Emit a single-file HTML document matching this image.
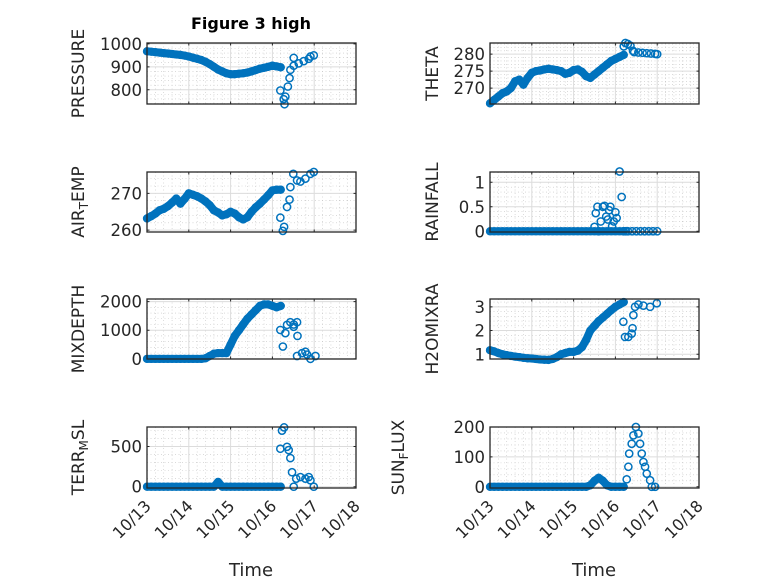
<!DOCTYPE html>
<html><head><meta charset="utf-8"><style>
html,body{margin:0;padding:0;background:#fff;}
svg{display:block;font-family:"DejaVu Sans","Liberation Sans",sans-serif;}
</style></head>
<body>
<svg id="fig" width="778" height="583" viewBox="0 0 778 583" xmlns="http://www.w3.org/2000/svg">
<rect width="778" height="583" fill="#fff"/>
<text x="251" y="29" text-anchor="middle" font-size="16" font-weight="bold" fill="#000">Figure 3 high</text>
<text x="251" y="576" text-anchor="middle" font-size="18" fill="#262626">Time</text>
<text x="594" y="576" text-anchor="middle" font-size="18" fill="#262626">Time</text>
</svg>
<script>
const xTickLabels = ['10/13','10/14','10/15','10/16','10/17','10/18'];
const tDense = [0,0.1,0.2,0.3,0.4,0.5,0.6,0.7,0.8,0.9,1.0,1.1,1.2,1.3,1.4,1.5,1.6,1.7,1.8,1.9,2.0,2.1,2.2,2.3,2.4,2.5,2.6,2.7,2.8,2.9,3.0,3.1,3.2];

const pressureDense = [968,966,964,962,960,958,956,954,952,949,945,940,935,930,922,912,900,888,880,872,868,868,870,872,875,880,886,892,896,900,905,902,898];
const pressureSparseT = [3.19,3.27,3.29,3.31,3.37,3.41,3.43,3.51,3.51,3.63,3.75,3.87,3.91,3.99];
const pressureSparseV = [797,759,737,770,814,851,887,939,905,915,925,935,945,950];

const thetaDense = [265.5,266.5,267.5,268.5,269,270,272,272.5,271,273,274.5,275,275.2,275.5,275.7,275.5,275.3,275,274.2,274.5,275.3,275.5,274.8,273.5,273,274,275,276,277,278,278.6,279.2,279.8];
const thetaSparseT = [3.2,3.24,3.3,3.36,3.42,3.45,3.55,3.65,3.75,3.85,3.95,4.0];
const thetaSparseV = [282.3,283.3,283,282.5,281,280.6,280.5,280.4,280.3,280.2,280.1,280];

const airTempDense = [263.2,263.8,264.5,265.4,265.8,266.5,267.5,268.6,267.2,268.5,270,269.6,269.2,268.6,267.8,266.8,265.4,264.8,264,264.3,265,264.5,263.5,262.9,263.5,265,266.2,267.2,268.3,269.5,270.8,271,271];
const airTempSparseT = [3.19,3.25,3.28,3.35,3.41,3.43,3.5,3.59,3.67,3.79,3.91,3.99];
const airTempSparseV = [263.4,259.8,260.9,266.3,268.3,271.7,275.3,273.5,273.2,274,275.3,275.8];

const rainDense = [0,0,0,0,0,0,0,0,0,0,0,0,0,0,0,0,0,0,0,0,0,0,0,0,0,0,0,0,0,0,0,0,0];
const rainSparseT = [2.5,2.53,2.57,2.6,2.65,2.7,2.74,2.78,2.82,2.85,2.88,2.92,2.96,3.0,3.03,3.1,3.15,3.2,3.25,3.3,3.4,3.5,3.6,3.7,3.8,3.9,4.0];
const rainSparseV = [0.09,0.37,0.5,0,0.2,0.5,0.52,0.3,0.24,0.43,0.5,0.1,0.2,0.39,0.27,1.22,0.7,0,0,0,0,0,0,0,0,0,0];

const mixDense = [0,0,0,0,0,0,0,0,0,0,0,0,0,0,20,100,180,200,200,200,500,800,1000,1200,1400,1550,1700,1850,1900,1900,1850,1800,1850];
const mixSparseT = [3.19,3.25,3.31,3.35,3.43,3.51,3.59,3.51,3.6,3.59,3.71,3.83,3.91,4.03,3.79];
const mixSparseV = [1010,430,897,1187,1280,1200,1280,1120,800,100,200,150,0,100,250];

const h2oDense = [1.17,1.12,1.05,1.0,0.96,0.93,0.9,0.88,0.85,0.83,0.82,0.8,0.78,0.77,0.76,0.8,0.88,1.0,1.05,1.1,1.1,1.15,1.3,1.6,2.0,2.2,2.4,2.55,2.7,2.86,3.0,3.1,3.2];
const h2oSparseT = [3.19,3.23,3.31,3.39,3.41,3.43,3.47,3.55,3.67,3.83,3.99];
const h2oSparseV = [2.37,1.73,1.73,1.87,2.1,2.65,3.0,3.1,3.05,3.0,3.15];

const terrDense = [0,0,0,0,0,0,0,0,0,0,0,0,0,0,0,0,0,60,0,0,0,0,0,0,0,0,0,0,0,0,0,0,0];
const terrSparseT = [3.19,3.23,3.28,3.35,3.39,3.43,3.47,3.51,3.57,3.67,3.79,3.91,3.99,3.87];
const terrSparseV = [472,697,737,496,455,356,180,0,100,120,100,80,0,120];

const sunDense = [0,0,0,0,0,0,0,0,0,0,0,0,0,0,0,0,0,0,0,0,0,0,0,0,5,20,30,20,5,0,0,0,0];
const sunSparseT = [3.27,3.31,3.33,3.39,3.43,3.49,3.55,3.59,3.63,3.67,3.71,3.75,3.83,3.87,3.95];
const sunSparseV = [25,67,111,144,172,200,178,144,111,83,67,44,22,0,0];

const NS = 'http://www.w3.org/2000/svg';
const svg = document.getElementById('fig');
function mk(tag, attrs, parent){ const e=document.createElementNS(NS,tag); for(const k in attrs) e.setAttribute(k,attrs[k]); (parent||svg).appendChild(e); return e; }

const colX = [147, 490];
const rowY = [[43,104],[172,232],[299,359],[427,488]];
const AXW = 209;

const panels = [
 {id:'pressure', col:0,row:0, ylim:[738,1004], yticks:[800,900,1000], major:100, label:['PRESSURE'], dense:pressureDense, st:pressureSparseT, sv:pressureSparseV},
 {id:'theta', col:1,row:0, ylim:[265.3,283.3], yticks:[270,275,280], major:5, label:['THETA'], dense:thetaDense, st:thetaSparseT, sv:thetaSparseV},
 {id:'air-temp', col:0,row:1, ylim:[259.5,275.8], yticks:[260,270], major:10, label:['AIR','T','EMP'], dense:airTempDense, st:airTempSparseT, sv:airTempSparseV},
 {id:'rainfall', col:1,row:1, ylim:[-0.015,1.21], yticks:[0,0.5,1], major:0.5, label:['RAINFALL'], dense:rainDense, st:rainSparseT, sv:rainSparseV},
 {id:'mixdepth', col:0,row:2, ylim:[-5,2090], yticks:[0,1000,2000], major:1000, label:['MIXDEPTH'], dense:mixDense, st:mixSparseT, sv:mixSparseV},
 {id:'h2omixra', col:1,row:2, ylim:[0.8,3.33], yticks:[1,2,3], major:1, label:['H2OMIXRA'], dense:h2oDense, st:h2oSparseT, sv:h2oSparseV},
 {id:'terr-msl', col:0,row:3, ylim:[-16,742], yticks:[0,500], major:500, label:['TERR','M','SL'], dense:terrDense, st:terrSparseT, sv:terrSparseV},
 {id:'sun-flux', col:1,row:3, ylim:[-4,200], yticks:[0,100,200], major:100, label:['SUN','F','LUX'], dense:sunDense, st:sunSparseT, sv:sunSparseV}
];

panels.forEach(p=>{
  const x0=colX[p.col], y0=rowY[p.row][0], y1=rowY[p.row][1];
  const xs = t => x0 + t/5*AXW;
  const ys = v => y1 - (v-p.ylim[0])/(p.ylim[1]-p.ylim[0])*(y1-y0);
  const g = mk('g',{});
  
  
  for(let d=0; d<5; d++) for(let m=1;m<5;m++){
    const x=xs(d+m/5);
    const l=mk('line',{x1:x,x2:x,y1:y0,y2:y1,stroke:'#c4c4c4','stroke-width':0.6,'stroke-dasharray':'1,2.5'},g);
    
    
  }
  const mstep=p.major/5;
  for(let v=Math.ceil(p.ylim[0]/mstep)*mstep; v<=p.ylim[1]; v+=mstep){
    if(Math.abs(v/p.major-Math.round(v/p.major))<1e-6) continue;
    const y=ys(v);
    const l=mk('line',{x1:x0,x2:x0+AXW,y1:y,y2:y,stroke:'#c4c4c4','stroke-width':0.6,'stroke-dasharray':'1,2.5'},g);
    
    
  }
  for(let d=1; d<5; d++){
    const x=xs(d);
    const l=mk('line',{x1:x,x2:x,y1:y0,y2:y1,stroke:'#dcdcdc','stroke-width':1},g);
    
    
  }
  p.yticks.forEach(v=>{
    const y=ys(v);
    const l=mk('line',{x1:x0,x2:x0+AXW,y1:y,y2:y,stroke:'#dcdcdc','stroke-width':1},g);
    
    
    const tk=mk('path',{d:`M${x0},${y}h2.5M${x0+AXW},${y}h-2.5`,stroke:'#262626','stroke-width':1},g);
    
    
    const tl=mk('text',{x:x0-5,y:y+6,'text-anchor':'end','font-size':16.5,fill:'#262626'},g);
    tl.textContent=String(v);
    
    
  });
  for(let d=0; d<=5; d++){
    const x=xs(d);
    const tk=mk('path',{d:`M${x},${y1}v-2.5M${x},${y0}v2.5`,stroke:'#262626','stroke-width':1},g);
    
    
    if(p.row===3){
      const ax=x+5, ay=y1+19;
      const tl=mk('text',{x:ax,y:ay,'text-anchor':'end','font-size':16,fill:'#262626',transform:`rotate(-45 ${ax} ${ay})`},g);
      tl.textContent=xTickLabels[d];
      
      
    }
  }
  const s = mk('g',{fill:'none',stroke:'#0072BD','stroke-width':1.5},g);
  
  
  // dense band: consecutive observations overlap into a thick trace
  const pts = tDense.map((t,i)=>xs(t).toFixed(1)+','+ys(p.dense[i]).toFixed(1)).join(' ');
  const band=mk('polyline',{points:pts,stroke:'#0072BD','stroke-width':8,'stroke-linecap':'round','stroke-linejoin':'round',fill:'none'},s);
  
  
  tDense.forEach((t,i)=>{
    const c=mk('circle',{cx:xs(t),cy:ys(p.dense[i]),r:3.4},s);
    
    
  });
  p.st.forEach((t,i)=>{
    const c=mk('circle',{cx:xs(t),cy:ys(p.sv[i]),r:3.6},s);
    
    
  });
  const b=mk('rect',{x:x0,y:y0,width:AXW,height:y1-y0,fill:'none',stroke:'#262626','stroke-width':1.3},g);
  
  
  const lx = p.col===0 ? 84 : (p.id==='sun-flux' ? 404 : 438);
  const ly = (y0+y1)/2;
  const yl=mk('text',{x:lx,y:ly,'text-anchor':'middle','font-size':17,fill:'#262626',transform:`rotate(-90 ${lx} ${ly})`},g);
  
  
  if(p.label.length===1){ yl.textContent=p.label[0]; }
  else {
    const a=mk('tspan',{},yl); a.textContent=p.label[0];
    const b2=mk('tspan',{'font-size':12,dy:4},yl); b2.textContent=p.label[1];
    const c=mk('tspan',{dy:-4},yl); c.textContent=p.label[2];
  }
});
</script>
</body></html>
